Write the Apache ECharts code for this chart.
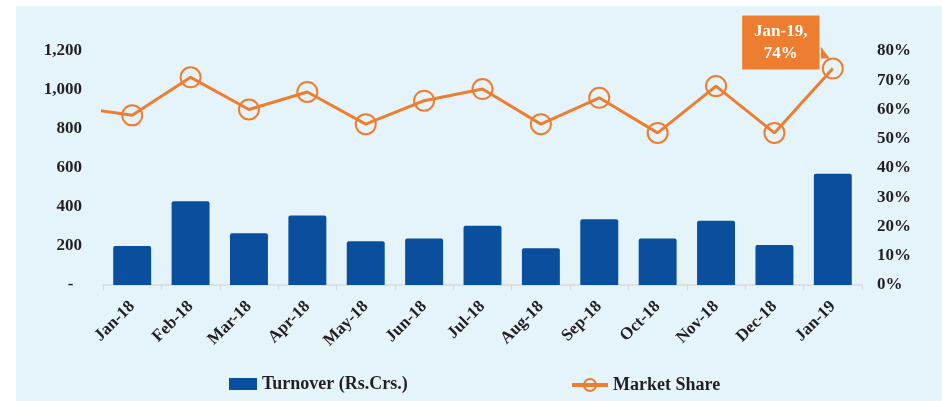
<!DOCTYPE html>
<html>
<head>
    <meta charset="utf-8" />
    <title>Turnover and Market Share</title>
    <style>
        html, body {
            margin: 0;
            padding: 0;
            background: #ffffff;
        }

        .main {
            position: absolute;
            left: 16px;
            top: 6px;
            width: 926px;
            height: 395px;
            background-color: #e5f4fb;
        }
    </style>
    <script src="https://cdn.jsdelivr.net/npm/echarts@6/dist/echarts.min.js"></script>
</head>
<body>
    <div class="main"></div>

    <script type="text/javascript">
        // data
        let months = ['Jan-18', 'Feb-18', 'Mar-18', 'Apr-18', 'May-18', 'Jun-18', 'Jul-18',
            'Aug-18', 'Sep-18', 'Oct-18', 'Nov-18', 'Dec-18', 'Jan-19'];
        let turnover = [200, 430, 265, 357, 224, 239, 304, 188, 337, 239, 330, 205, 570];
        let marketShare = [58, 71, 60, 66, 55, 63, 67, 55, 64, 52, 68, 52, 74];
        // previous month (Dec-17), only its segment shows at the left edge
        let prevShare = 61;
        let leftTicks = [0, 1200, 200];
        let rightTicks = [0, 80, 10];

        const fontFam = '"Liberation Serif", "Times New Roman", serif';
        const textCol = '#231f20';
        const orange = '#ed7d31';
        const blue = '#0a4f9e';

        // line data on a hidden value axis so the clipped Dec-17 segment can be drawn
        let lineData = [{ value: [-1, prevShare], symbol: 'none' }];
        marketShare.forEach(function (v, i) {
            let item = { value: [i, v], name: months[i] };
            if (i === months.length - 1) {
                item.label = {
                    show: true,
                    position: 'inside',
                    offset: [-52, -26],
                    formatter: months[i] + ',\n' + v + '%',
                    color: '#ffffff',
                    fontFamily: fontFam,
                    fontWeight: 'bold',
                    fontSize: 17,
                    lineHeight: 22,
                    backgroundColor: orange,
                    padding: [5, 12]
                };
            }
            lineData.push(item);
        });

        const legendText = {
            fontFamily: fontFam,
            fontWeight: 'bold',
            fontSize: 18,
            color: textCol
        };

        var myChart = echarts.init(document.querySelector('.main'));
        var option = {
            animation: false,
            grid: {
                left: 87,
                right: 80,
                top: 45,
                bottom: 116
            },
            legend: [
                {
                    left: 208,
                    top: 364,
                    itemWidth: 28,
                    itemHeight: 12,
                    icon: 'rect',
                    textStyle: legendText,
                    data: ['Turnover (Rs.Crs.)']
                },
                {
                    left: 549,
                    top: 365,
                    itemWidth: 36,
                    itemHeight: 15,
                    lineStyle: { width: 4 },
                    textStyle: legendText,
                    data: ['Market Share']
                }
            ],
            xAxis: [
                {
                    type: 'category',
                    data: months,
                    axisLine: { lineStyle: { color: '#d9d9d9', width: 1.5 } },
                    axisTick: { show: true, length: 5, lineStyle: { color: '#d9d9d9' } },
                    axisLabel: {
                        rotate: 45,
                        margin: 19,
                        interval: 0,
                        fontFamily: fontFam,
                        fontWeight: 'bold',
                        fontSize: 17,
                        color: textCol
                    }
                },
                {
                    type: 'value',
                    min: -0.5,
                    max: months.length - 0.5,
                    show: false
                }
            ],
            yAxis: [
                {
                    type: 'value',
                    min: leftTicks[0],
                    max: leftTicks[1],
                    interval: leftTicks[2],
                    splitLine: { show: false },
                    axisLine: { show: false },
                    axisTick: { show: false },
                    axisLabel: {
                        margin: 21,
                        fontFamily: fontFam,
                        fontWeight: 'bold',
                        fontSize: 17,
                        color: textCol,
                        formatter: function (v) {
                            return v === 0 ? '-  ' : v.toLocaleString('en-US');
                        }
                    }
                },
                {
                    type: 'value',
                    min: rightTicks[0],
                    max: rightTicks[1],
                    interval: rightTicks[2],
                    splitLine: { show: false },
                    axisLine: { show: false },
                    axisTick: { show: false },
                    axisLabel: {
                        margin: 15,
                        fontFamily: fontFam,
                        fontWeight: 'bold',
                        fontSize: 17,
                        color: textCol,
                        formatter: '{value}%'
                    }
                }
            ],
            series: [
                {
                    name: 'Turnover (Rs.Crs.)',
                    type: 'bar',
                    xAxisIndex: 0,
                    yAxisIndex: 0,
                    data: turnover,
                    barWidth: '65%',
                    itemStyle: { color: blue, borderRadius: [2, 2, 0, 0] }
                },
                {
                    name: 'Market Share',
                    type: 'line',
                    xAxisIndex: 1,
                    yAxisIndex: 1,
                    data: lineData,
                    clip: true,
                    z: 5,
                    symbol: 'circle',
                    symbolSize: 20,
                    lineStyle: { color: orange, width: 3 },
                    itemStyle: {
                        color: 'rgba(0,0,0,0)',
                        borderColor: orange,
                        borderWidth: 2
                    }
                }
            ]
        };
        myChart.setOption(option);

        // small callout tail from the label box toward the last point
        let last = marketShare.length - 1;
        let pt = myChart.convertToPixel({ xAxisIndex: 1, yAxisIndex: 1 }, [last, marketShare[last]]);
        myChart.setOption({
            graphic: [{
                type: 'polygon',
                z: 100,
                shape: {
                    points: [[pt[0] - 12, pt[1] - 22], [pt[0] - 3, pt[1] - 10], [pt[0] - 12, pt[1] - 10]]
                },
                style: { fill: orange }
            }]
        });
    </script>
</body>
</html>
